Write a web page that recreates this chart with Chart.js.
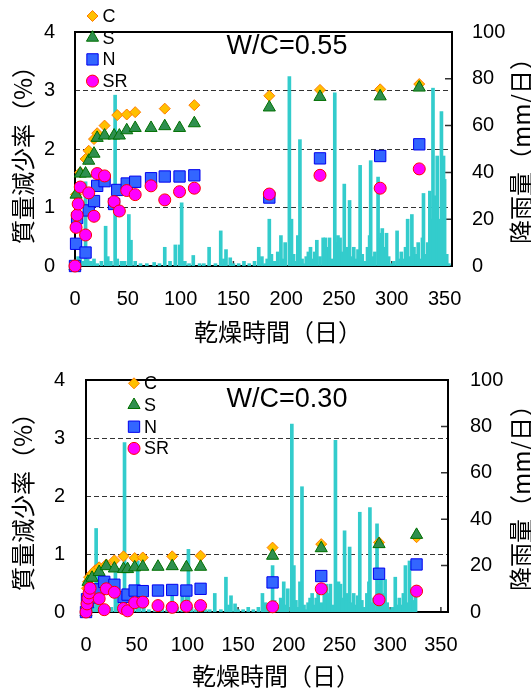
<!DOCTYPE html>
<html>
<head>
<meta charset="utf-8">
<script src="https://cdn.jsdelivr.net/npm/chart.js@4.4.1/dist/chart.umd.min.js"></script>
<style>
  html, body { margin: 0; padding: 0; background: #fff; }
  canvas { display: block; }
</style>
</head>
<body>
<canvas id="wc55" width="531" height="346"></canvas>
<canvas id="wc30" width="531" height="347"></canvas>
<script>
// series names (legend order)
const seriesNames = ['C', 'S', 'N', 'SR'];

// W/C=0.55 : mass loss (%) vs drying days
const days55 = [0, 1, 2, 3, 5, 10, 13, 18, 21, 28, 37, 40, 42, 49, 57, 72, 85, 99, 113, 184, 232, 289, 326];
const c55  = [0, 1.22, null, null, 1.60, 1.83, 1.97, 2.17, 2.27, 2.40, null, 2.58, null, 2.59, 2.63, null, 2.69, null, 2.75, 2.91, 3.01, 3.02, 3.11];
const s55  = [0, 1.22, null, null, 1.58, 1.58, 1.80, 1.92, 2.19, 2.23, 2.23, null, 2.23, 2.32, 2.36, 2.36, 2.39, 2.36, 2.44, 2.71, 2.89, 2.90, 3.05];
const n55  = [0, 0.38, 0.82, null, null, 0.23, 0.95, 1.11, 1.37, 1.45, 1.06, 1.30, null, 1.41, 1.44, 1.50, 1.53, 1.53, 1.55, 1.17, 1.84, 1.88, 2.08];
const sr55 = [0, 0.66, 0.87, 1.06, 1.35, 0.53, 1.25, 0.85, 1.58, 1.54, 1.10, null, 0.94, 1.29, 1.22, 1.37, 1.13, 1.27, 1.33, 1.23, 1.55, 1.33, 1.66];

// W/C=0.30
const days30 = [0, 1, 2, 3, 4, 6, 9, 13, 18, 20, 28, 37, 41, 48, 56, 71, 85, 99, 113, 184, 232, 289, 326];
const c30  = [0, 0.41, 0.52, 0.60, null, 0.66, 0.72, 0.77, null, 0.82, 0.89, 0.96, null, 0.93, 0.94, null, 0.96, null, 0.97, 1.11, 1.17, 1.20, 1.29];
const s30  = [0, null, 0.52, null, null, 0.59, null, 0.69, null, 0.79, 0.75, 0.74, 0.74, 0.77, 0.78, 0.78, 0.79, 0.77, 0.78, 0.97, 1.10, 1.17, 1.33];
const n30  = [0, 0.22, 0.17, null, null, null, 0.25, 0.39, 0.52, null, 0.47, 0.26, 0.30, 0.37, 0.36, 0.37, 0.38, 0.37, 0.40, 0.51, 0.62, 0.66, 0.82];
const sr30 = [0, 0.14, 0.24, 0.33, 0.41, null, null, 0.23, 0.04, 0.40, 0.34, 0.06, 0.02, 0.16, 0.17, 0.11, 0.08, 0.10, 0.11, 0.09, 0.40, 0.21, 0.36];

// daily rainfall (mm/day), only rainy days listed
const rainDays = [1, 3, 5, 7, 10, 12, 15, 18, 21, 25, 29, 31, 34, 38, 40, 44, 47, 51, 53, 57,
  62, 68, 75, 80, 85, 90, 95, 99, 101, 104, 108, 112, 118, 122, 127, 133, 138, 141, 143, 147,
  150, 155, 160, 165, 170, 174, 177, 180, 182, 184, 186, 189, 192, 195, 197, 199, 203, 205, 207, 209,
  211, 213, 215, 217, 219, 221, 223, 225, 227, 229, 232, 235, 237, 239, 241, 243, 246, 248, 249, 251,
  253, 255, 257, 258, 260, 262, 264, 266, 268, 270, 272, 274, 277, 279, 280, 282, 284, 287, 288, 290,
  291, 293, 295, 297, 299, 302, 305, 307, 309, 311, 313, 315, 317, 319, 321, 323, 325, 327, 329, 330,
  332, 334, 336, 337, 339, 341, 343, 345, 347, 349, 350, 352, 354];
const rainMm = [2, 4, 3, 2, 36, 3, 2, 3, 1, 2, 17, 4, 2, 73, 3, 2, 2, 22, 11, 2,
  1, 1, 1.5, 1, 8, 2, 9, 9, 27, 2, 1, 4.5, 1, 1, 8, 1, 15, 3, 7, 3.5,
  1, 1, 2, 1, 2, 8, 4, 1, 3, 20, 5, 2, 6, 13, 3, 10, 81, 20, 5, 2,
  13, 54, 3, 1, 4, 6, 8, 3, 6, 11, 4, 12, 12, 8, 12, 3, 74, 10, 13, 12,
  6, 35, 8, 5, 28, 4, 8, 3, 7, 43, 5, 2, 8, 13, 45, 4, 6, 38, 12, 14,
  16, 8, 14, 4, 1, 2, 15, 3, 6, 3, 8, 20, 4, 22, 8, 5, 10, 3, 12, 31,
  5, 10, 32, 20, 76, 30, 47, 20, 66, 47, 37, 5, 1];

const numFont = "'Liberation Sans', Arial, sans-serif";
const jaFont = "'Noto Sans CJK JP', sans-serif";

const markerStyles = [
  { pointStyle: 'rectRot', radius: 5.5, bg: '#FFC000', bd: '#FF7A00' },
  { pointStyle: 'triangle', radius: 7, bg: '#2F8F4F', bd: '#007000' },
  { pointStyle: 'rect', radius: 8, bg: '#3366FF', bd: '#0000EE' },
  { pointStyle: 'circle', radius: 6, bg: '#FF00FF', bd: '#FF0000' }
];

// frame, inner ticks, legend, W/C label, titles
const panelDecor = {
  id: 'panelDecor',
  beforeDatasetsDraw(chart, args, opts) {
    const { ctx, chartArea: a } = chart;
    const xs = chart.scales.x, y2 = chart.scales.y2;
    ctx.save();
    ctx.strokeStyle = '#333';
    ctx.lineWidth = 1.5;
    ctx.beginPath();
    for (let v = 50; v <= 350; v += 50) {
      const px = xs.getPixelForValue(v);
      ctx.moveTo(px, a.bottom);
      ctx.lineTo(px, a.bottom - 5);
    }
    for (let v = 20; v <= 80; v += 20) {
      const py = y2.getPixelForValue(v);
      ctx.moveTo(a.right, py);
      ctx.lineTo(a.right - 7, py);
    }
    ctx.stroke();
    ctx.strokeStyle = '#000';
    ctx.lineWidth = 2;
    ctx.strokeRect(a.left, a.top, a.right - a.left, a.bottom - a.top);
    ctx.restore();
  },
  afterDatasetsDraw(chart, args, opts) {
    const { ctx, chartArea: a } = chart;
    ctx.save();
    // legend
    ctx.font = '18px ' + numFont;
    ctx.textBaseline = 'middle';
    ctx.textAlign = 'left';
    seriesNames.forEach((name, k) => {
      const st = markerStyles[k];
      const y = opts.legendY + k * 21.7;
      ctx.fillStyle = st.bg;
      ctx.strokeStyle = st.bd;
      ctx.lineWidth = 1;
      Chart.helpers.drawPoint(ctx, { pointStyle: st.pointStyle, radius: st.radius, borderWidth: 1, rotation: 0 }, opts.legendX, y);
      ctx.fillStyle = '#000';
      ctx.fillText(name, opts.legendX + 10, y + 1);
    });
    // W/C label
    ctx.font = '27px ' + numFont;
    ctx.textAlign = 'center';
    ctx.fillStyle = '#000';
    ctx.fillText(opts.wc, 287, opts.wcY);
    // x title
    ctx.font = '24px ' + jaFont;
    ctx.fillText('乾燥時間（日）', opts.titleX, opts.titleY);
    // right title, reading bottom to top
    ctx.translate(521, (a.top + a.bottom) / 2 - 4);
    ctx.rotate(-Math.PI / 2);
    ctx.fillText('降雨量（mm/日）', 0, 0);
    ctx.restore();
  }
};

function buildPanel(id, days, vals, lastRainDay, box) {
  const pointSets = vals.map((arr, k) => ({
    type: 'scatter',
    label: seriesNames[k],
    order: 4 - k,
    yAxisID: 'y',
    clip: false,
    data: days.map((d, i) => ({ x: d, y: arr[i] })).filter(p => p.y !== null),
    pointStyle: markerStyles[k].pointStyle,
    pointRadius: markerStyles[k].radius,
    backgroundColor: markerStyles[k].bg,
    borderColor: markerStyles[k].bd,
    borderWidth: 1
  }));
  const rain = {
    type: 'bar',
    label: '降雨量',
    order: 5,
    yAxisID: 'y2',
    data: rainDays.map((d, i) => ({ x: d, y: rainMm[i] })).filter(p => p.x <= lastRainDay),
    backgroundColor: '#33CCCC',
    borderWidth: 0,
    barThickness: 3
  };

  return new Chart(document.getElementById(id), {
    type: 'scatter',
    data: { datasets: [rain, ...pointSets] },
    plugins: [panelDecor],
    options: {
      responsive: false,
      animation: false,
      events: [],
      layout: { autoPadding: false, padding: { top: box.top, left: 0, right: 0, bottom: 0 } },
      scales: {
        x: {
          type: 'linear', position: 'bottom', min: 0, max: 357, offset: false,
          grid: { display: false, drawTicks: false },
          border: { display: false },
          ticks: { stepSize: 50, includeBounds: false, padding: 21, color: '#000', font: { family: numFont, size: 20 } },
          afterFit: s => { s.height = box.xHeight; }
        },
        y: {
          type: 'linear', position: 'left', min: 0, max: 4,
          grid: {
            drawTicks: false, lineWidth: 1,
            color: c => (c.tick && c.tick.value > 0 && c.tick.value < 4) ? '#333' : 'rgba(0,0,0,0)'
          },
          border: { display: false, dash: [5, 3] },
          ticks: { stepSize: 1, padding: box.yPad, color: '#000', font: { family: numFont, size: 20 } },
          title: { display: true, text: '質量減少率（%）', color: '#000', padding: { top: 8, bottom: 0 }, font: { family: jaFont, size: 24 } },
          afterFit: s => { s.width = box.left; }
        },
        y2: {
          type: 'linear', position: 'right', min: 0, max: 100,
          grid: { display: false, drawTicks: false },
          border: { display: false },
          ticks: { stepSize: 20, padding: box.y2Pad, color: '#000', font: { family: numFont, size: 20 } },
          afterFit: s => { s.width = box.right; }
        }
      },
      plugins: {
        legend: { display: false },
        tooltip: { enabled: false },
        panelDecor: { legendX: box.legendX, legendY: box.legendY, wc: box.wc, wcY: box.wcY, titleX: box.titleX, titleY: box.titleY }
      }
    }
  });
}

buildPanel('wc55', days55, [c55, s55, n55, sr55], 400, {
  top: 17, xHeight: 80, left: 75, right: 79, yPad: 20, y2Pad: 20,
  legendX: 92.5, legendY: 16, wc: 'W/C=0.55', wcY: 47, titleX: 278, titleY: 332
});
buildPanel('wc30', days30, [c30, s30, n30, sr30], 326, {
  top: 22, xHeight: 81, left: 86, right: 83, yPad: 21, y2Pad: 22,
  legendX: 134, legendY: 37.3, wc: 'W/C=0.30', wcY: 54, titleX: 276, titleY: 330
});
</script>
</body>
</html>
